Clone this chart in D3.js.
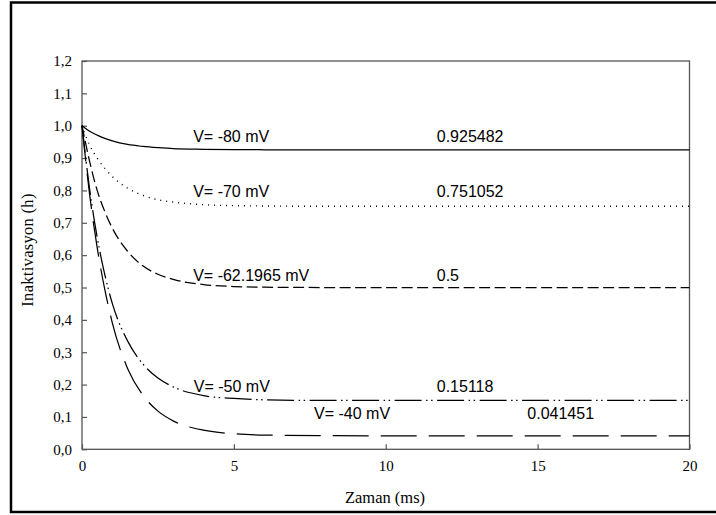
<!DOCTYPE html>
<html>
<head>
<meta charset="utf-8">
<script src="https://cdn.jsdelivr.net/npm/d3@7"></script>
<style>
  body { margin: 0; background: #fff; }
  svg text { fill: #000; }
</style>
</head>
<body>
<div id="chart"></div>
<script>
// time points (ms)
var times = [0, 0.25, 0.5, 0.75, 1, 1.5, 2, 2.5, 3, 4, 5, 6, 8, 10, 15, 20];

// h values for each holding voltage
var h80 = [1, 0.983, 0.971, 0.961, 0.953, 0.942, 0.936, 0.932, 0.929, 0.927, 0.926, 0.9257, 0.9255, 0.9255, 0.9255, 0.9255];
var h70 = [1, 0.94, 0.90, 0.868, 0.843, 0.807, 0.785, 0.771, 0.764, 0.756, 0.753, 0.752, 0.751, 0.751, 0.751, 0.751];
var h62 = [1, 0.89, 0.80, 0.735, 0.683, 0.612, 0.567, 0.541, 0.525, 0.509, 0.503, 0.501, 0.5, 0.5, 0.5, 0.5];
var h50 = [1, 0.805, 0.655, 0.54, 0.45, 0.335, 0.264, 0.22, 0.193, 0.166, 0.157, 0.153, 0.151, 0.151, 0.151, 0.151];
var h40 = [1, 0.788, 0.623, 0.494, 0.39, 0.25, 0.168, 0.118, 0.088, 0.059, 0.048, 0.044, 0.042, 0.0415, 0.0415, 0.0415];

var seriesNames = ["V= -80 mV", "V= -70 mV", "V= -62.1965 mV", "V= -50 mV", "V= -40 mV"];
var steadyLabels = ["0.925482", "0.751052", "0.5", "0.15118", "0.041451"];
var dashes = ["none", "1,5", "11,4.5", "27,4.5,1.5,3.5,1.5,4.5", "36,12"];

// label anchor points in data units (t for name, t for value, h for both)
var nameT = [3.66, 3.66, 3.66, 3.68, 7.64];
var valueT = [11.68, 11.68, 11.68, 11.68, 14.66];
var labelH = [0.951, 0.779, 0.521, 0.178, 0.093];

var xTicks = [0, 5, 10, 15, 20];
var yTicks = [0, 0.1, 0.2, 0.3, 0.4, 0.5, 0.6, 0.7, 0.8, 0.9, 1.0, 1.1, 1.2];

var W = 716, H = 515;
var margin = {top: 61, right: 26.5, bottom: 65.7, left: 82};
var width = W - margin.left - margin.right,
    height = H - margin.top - margin.bottom;

var svg = d3.select("#chart").append("svg")
  .attr("width", W)
  .attr("height", H);

// outer frame
svg.append("rect")
  .attr("x", 11).attr("y", 2.5)
  .attr("width", 716).attr("height", 509.5)
  .attr("fill", "none")
  .attr("stroke", "#000")
  .attr("stroke-width", 2.5);

var g = svg.append("g")
  .attr("transform", "translate(" + margin.left + "," + margin.top + ")");

var x = d3.scaleLinear().domain([0, 20]).range([0, width]);
var y = d3.scaleLinear().domain([0, 1.2]).range([height, 0]);

var comma = function(d) { return d3.format(".1f")(d).replace(".", ","); };

// axes, ticks pointing into the plot
var yAxis = g.append("g")
  .call(d3.axisLeft(y).tickValues(yTicks).tickSize(-5).tickPadding(10).tickFormat(comma));
var xAxis = g.append("g")
  .attr("transform", "translate(0," + height + ")")
  .call(d3.axisBottom(x).tickValues(xTicks).tickSize(-5).tickPadding(11).tickFormat(d3.format("d")));

[yAxis, xAxis].forEach(function(a) {
  a.select(".domain").remove();
  a.selectAll("line").attr("stroke", "#555").attr("stroke-width", 1.2);
  a.selectAll("text")
    .attr("font-family", "'Liberation Serif', 'Times New Roman', serif")
    .attr("font-size", 15)
    .attr("fill", "#111");
});
xAxis.selectAll("text").attr("dy", "0.71em");

// plot frame
g.append("rect")
  .attr("width", width).attr("height", height)
  .attr("fill", "none")
  .attr("stroke", "#555")
  .attr("stroke-width", 1.3);

// curves
var allH = [h80, h70, h62, h50, h40];
var line = d3.line()
  .x(function(d) { return x(d[0]); })
  .y(function(d) { return y(d[1]); })
  .curve(d3.curveMonotoneX);

allH.forEach(function(vals, i) {
  var pts = times.map(function(t, j) { return [t, vals[j]]; });
  g.append("path")
    .attr("d", line(pts))
    .attr("fill", "none")
    .attr("stroke", "#000")
    .attr("stroke-width", i == 1 ? 1.4 : 1.25)
    .attr("stroke-dasharray", dashes[i]);
});

// annotations
var sans = "'Liberation Sans', Arial, sans-serif";
seriesNames.forEach(function(name, i) {
  g.append("text")
    .attr("x", x(nameT[i])).attr("y", y(labelH[i]))
    .attr("font-family", sans).attr("font-size", 16)
    .text(name);
  g.append("text")
    .attr("x", x(valueT[i])).attr("y", y(labelH[i]))
    .attr("font-family", sans).attr("font-size", 16)
    .text(steadyLabels[i]);
});

// axis titles
svg.append("text")
  .attr("x", 385).attr("y", 502.5)
  .attr("text-anchor", "middle")
  .attr("font-family", "'Liberation Serif', 'Times New Roman', serif")
  .attr("font-size", 16.5)
  .text("Zaman (ms)");

svg.append("text")
  .attr("transform", "translate(33,250) rotate(-90)")
  .attr("text-anchor", "middle")
  .attr("font-family", "'Liberation Serif', 'Times New Roman', serif")
  .attr("font-size", 16.5)
  .attr("letter-spacing", 0.3)
  .text("Inaktivasyon (h)");
</script>
</body>
</html>
